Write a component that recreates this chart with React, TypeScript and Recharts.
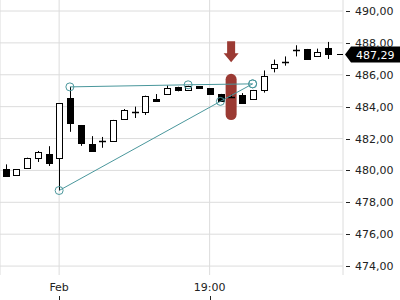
import {
  ComposedChart,
  Bar,
  Line,
  XAxis,
  YAxis,
  CartesianGrid,
  ReferenceArea,
  ReferenceDot,
  ReferenceLine,
} from 'recharts';

// OHLC per candle
const opens = [480.1, 479.73, 480.18, 480.78, 481.01, 480.8, 484.53, 482.85, 481.63, 481.79, 481.83, 483.23, 483.64, 483.65, 484.48, 484.79, 485.25, 485.06, 485.29, 485.17, 484.8, 484.55, 484.7, 484.47, 485.05, 486.42, 486.79, 487.5, 487.62, 487.2, 487.68];
const highs = [480.38, 480.08, 480.8, 481.22, 481.52, 484.21, 485.24, 482.85, 482.15, 482.1, 483.17, 483.85, 484.0, 484.69, 484.79, 485.33, 485.25, 485.31, 485.29, 485.17, 484.8, 484.75, 484.85, 485.05, 486.27, 486.95, 487.15, 487.85, 487.62, 487.64, 488.06];
const lows = [479.65, 479.73, 480.18, 480.53, 480.28, 478.74, 482.42, 481.54, 481.22, 481.42, 481.83, 483.23, 483.29, 483.48, 484.33, 484.79, 484.96, 485.06, 485.19, 484.79, 484.38, 484.55, 484.25, 484.47, 484.88, 486.15, 486.57, 487.15, 486.99, 487.2, 486.99];
const closes = [479.65, 480.08, 480.8, 481.14, 480.47, 484.21, 482.95, 481.73, 481.22, 481.82, 483.17, 483.79, 483.67, 484.69, 484.33, 485.17, 485.04, 485.31, 485.19, 484.79, 484.38, 484.58, 484.25, 485.05, 485.93, 486.67, 486.82, 487.53, 486.99, 487.43, 487.29];

const tickLabels: Record<number, string> = { 5: 'Feb', 19: '19:00' };
const xTicks = [5, 19];
const yTicks = [474, 476, 478, 480, 482, 484, 486, 488, 490];

// trend lines (candle index -> price)
const upperTrend = [
  { i: 6, v: 485.24 },
  { i: 17, v: 485.37 },
  { i: 23, v: 485.43 },
];
const lowerTrend = [
  { i: 5, v: 478.74 },
  { i: 20, v: 484.33 },
  { i: 23, v: 485.43 },
];

const highlightIndex = 21;
const highlightLow = 483.16;
const highlightHigh = 486.06;
const arrowTip = 486.78;
const lastPrice = 487.29;

const TEAL = '#4a979c';
const RED = '#9b3a33';
const FONT = 'DejaVu Sans';

const data = opens.map((open, i) => ({
  i,
  open,
  high: highs[i],
  low: lows[i],
  close: closes[i],
  upper: upperTrend.find((p) => p.i === i)?.v ?? null,
  lower: lowerTrend.find((p) => p.i === i)?.v ?? null,
}));

const fmt = (v: number) => v.toFixed(2).replace('.', ',');

const Candle = (props: any) => {
  const { x, y, width, height, payload } = props;
  const { open, close, high, low } = payload;
  const span = high - low;
  const toY = (v: number) => (span > 0 ? y + ((high - v) / span) * height : y);
  const cx = Math.round(x + width / 2) + 0.5;
  const up = close >= open;
  const top = Math.round(toY(Math.max(open, close))) + 0.5;
  const bottom = Math.round(toY(Math.min(open, close))) + 0.5;
  return (
    <g>
      <line x1={cx} x2={cx} y1={y} y2={y + height} stroke="#000" strokeWidth={1} />
      {bottom - top < 1.5 ? (
        <line x1={cx - 3.5} x2={cx + 3.5} y1={top} y2={top} stroke="#000" strokeWidth={1.5} />
      ) : (
        <rect x={cx - 3} y={top} width={6} height={bottom - top} fill={up ? '#fff' : '#000'} stroke="#000" strokeWidth={1} />
      )}
    </g>
  );
};

const Pill = (props: any) => {
  const { x, y, width, height } = props;
  const cx = x + width / 2;
  return <rect x={cx - 5.5} y={y} width={11} height={height} rx={5.5} ry={5.5} fill={RED} />;
};

const Arrow = (props: any) => {
  const { cx, cy } = props;
  return (
    <path
      d={`M${cx - 4},${cy - 21} h8 v12 h3.5 L${cx},${cy} L${cx - 7.5},${cy - 9} h3.5 Z`}
      fill={RED}
    />
  );
};

const PriceTag = (props: any) => {
  const { viewBox } = props;
  const r = viewBox.x + viewBox.width;
  const cy = Math.round(viewBox.y) + 0.5;
  return (
    <g>
      <line x1={r - 6} x2={r} y1={cy} y2={cy} stroke="#000" strokeWidth={1} />
      <path d={`M${r + 2},${cy} L${r + 8},${cy - 8} L400,${cy - 8} L400,${cy + 8} L${r + 8},${cy + 8} Z`} fill="#000" />
      <text x={r + 13} y={cy + 4} fill="#fff" fontSize={11} fontFamily={FONT}>
        {fmt(lastPrice)}
      </text>
    </g>
  );
};

const YTick = (props: any) => {
  const { x, y, payload } = props;
  const cy = Math.round(y) + 0.5;
  return (
    <g>
      <line x1={x + 3} x2={x + 7} y1={cy} y2={cy} stroke="#222" strokeWidth={1} />
      <text x={x + 12} y={y + 4} fill="#222" fontSize={11} fontFamily={FONT}>
        {fmt(payload.value)}
      </text>
    </g>
  );
};

const XTick = (props: any) => {
  const { x, y, payload } = props;
  const cx = Math.round(x) + 0.5;
  return (
    <g>
      <text x={x} y={y + 16} fill="#222" fontSize={11} fontFamily={FONT} textAnchor="middle">
        {tickLabels[payload.value] ?? ''}
      </text>
      <line x1={cx} x2={cx} y1={y + 21} y2={y + 25} stroke="#222" strokeWidth={1} />
    </g>
  );
};

export default function App() {
  return (
    <div style={{ position: 'absolute', left: 0, top: 0, width: 400, height: 300, background: '#fff' }}>
      <ComposedChart width={400} height={300} data={data} margin={{ top: 0, right: 0, bottom: 0, left: 0 }}>
        <CartesianGrid stroke="#dcdcdc" horizontalValues={yTicks} />
        <XAxis
          dataKey="i"
          type="category"
          ticks={xTicks}
          interval={0}
          height={25}
          axisLine={false}
          tickLine={false}
          tickSize={0}
          tickMargin={0}
          padding={{ left: 0, right: 9.75 }}
          tick={<XTick />}
        />
        <YAxis
          orientation="right"
          width={57}
          domain={[473.44, 490.69]}
          allowDataOverflow
          ticks={yTicks}
          interval={0}
          axisLine={false}
          tickLine={false}
          tickSize={0}
          tickMargin={0}
          tick={<YTick />}
        />
        <ReferenceArea
          x1={highlightIndex}
          x2={highlightIndex}
          y1={highlightLow}
          y2={highlightHigh}
          ifOverflow="visible"
          shape={<Pill />}
        />
        <Bar
          dataKey={(d: any) => [d.low, d.high]}
          barSize={7}
          shape={<Candle />}
          isAnimationActive={false}
        />
        <Line
          dataKey="upper"
          connectNulls
          stroke={TEAL}
          strokeWidth={1}
          dot={{ r: 4, fill: 'none', stroke: TEAL, strokeWidth: 1 }}
          activeDot={false}
          isAnimationActive={false}
        />
        <Line
          dataKey="lower"
          connectNulls
          stroke={TEAL}
          strokeWidth={1}
          dot={{ r: 4, fill: 'none', stroke: TEAL, strokeWidth: 1 }}
          activeDot={false}
          isAnimationActive={false}
        />
        <ReferenceDot x={highlightIndex} y={arrowTip} ifOverflow="visible" shape={<Arrow />} />
        <ReferenceLine y={lastPrice} stroke="none" ifOverflow="visible" label={<PriceTag />} />
      </ComposedChart>
    </div>
  );
}
